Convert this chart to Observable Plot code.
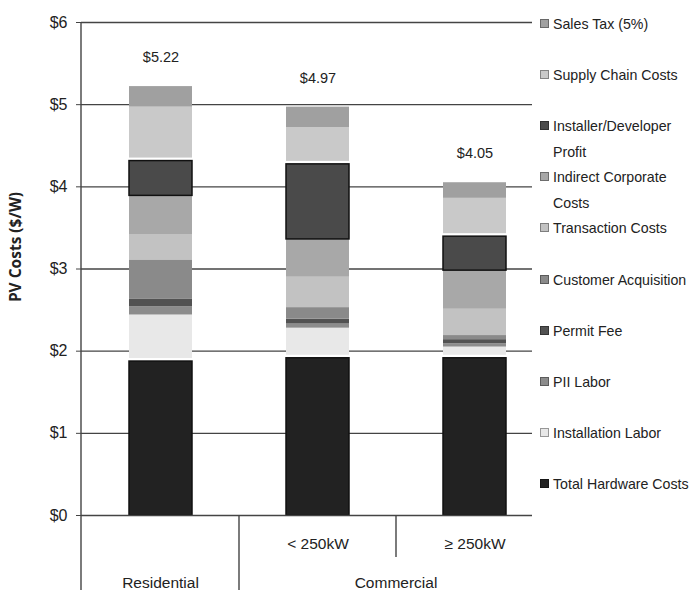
<!DOCTYPE html>
<html>
<head>
<meta charset="utf-8">
<script src="https://cdn.jsdelivr.net/npm/d3@7"></script>
<script src="https://cdn.jsdelivr.net/npm/@observablehq/plot@0.6"></script>
<style>
  body { margin: 0; background: #fff; }
  #wrap { position: relative; width: 691px; height: 595px; overflow: hidden; }
  .lg { position: absolute; left: 540px; font-family: 'Liberation Sans', Arial, sans-serif; font-size: 14.2px; color: #222; line-height: 26px; }
  .lg .sw { position: absolute; left: 0; top: 8px; width: 9px; height: 9px; box-sizing: border-box; border: 1px solid rgba(0,0,0,0.35); }
  .lg .tx { margin-left: 13px; white-space: nowrap; }
</style>
</head>
<body>
<div id="wrap"></div>
<script>
// ---- data ----
const categories = ["Residential", "< 250kW", "≥ 250kW"];
const groups = ["Residential", "Commercial", "Commercial"];
const series = [
  "Total Hardware Costs", "Installation Labor", "PII Labor", "Permit Fee",
  "Customer Acquisition", "Transaction Costs", "Indirect Corporate Costs",
  "Installer/Developer Profit", "Supply Chain Costs", "Sales Tax (5%)"
];
const residential     = [1.91, 0.53, 0.10, 0.09, 0.48, 0.31, 0.47, 0.46, 0.62, 0.25];
const commercialSmall = [1.95, 0.33, 0.05, 0.06, 0.14, 0.37, 0.46, 0.95, 0.41, 0.25];
const commercialLarge = [1.95, 0.10, 0.04, 0.05, 0.05, 0.32, 0.47, 0.45, 0.43, 0.19];
const totals = [5.22, 4.97, 4.05];
const yTicks = [0, 1, 2, 3, 4, 5, 6];
const colors = ["#222222", "#e8e8e8", "#8c8c8c", "#525252", "#8a8a8a",
                "#c2c2c2", "#a8a8a8", "#4a4a4a", "#c9c9c9", "#a0a0a0"];
const outlined = ["Total Hardware Costs", "Installer/Developer Profit"];

// ---- build table ----
const valuesByCat = [residential, commercialSmall, commercialLarge];
const rows = [];
categories.forEach((c, i) => series.forEach((s, j) => rows.push({
  cat: c, series: s, value: valuesByCat[i][j], outlined: outlined.includes(s)
})));
const totalRows = categories.map((c, i) => ({cat: c, total: totals[i]}));

const FONT = "'Liberation Sans', Arial, sans-serif";
const W = 691, H = 595, mL = 81, mR = 159, mT = 22, mB = 80;

const plot = Plot.plot({
  width: W, height: H,
  marginLeft: mL, marginRight: mR, marginTop: mT, marginBottom: mB,
  style: {fontFamily: FONT, fontSize: "15px", color: "#222", background: "white", overflow: "visible"},
  x: {domain: categories, range: [mL, 553], paddingInner: 0.6, paddingOuter: 0.3, label: null},
  y: {domain: [0, 6], label: null},
  color: {domain: series, range: colors},
  marks: [
    Plot.gridY(yTicks.slice(1), {stroke: "#444", strokeOpacity: 1, strokeWidth: 1.4}),
    Plot.barY(rows, Plot.filter(d => !d.outlined,
      Plot.stackY({x: "cat", y: "value", fill: "series"}))),
    Plot.barY(rows, Plot.filter(d => d.outlined,
      Plot.stackY({x: "cat", y: "value", fill: "series", stroke: "#111", strokeWidth: 1.5, insetTop: 3}))),
    Plot.ruleY([0], {stroke: "#444", strokeWidth: 1.4}),
    Plot.axisY(yTicks, {tickFormat: d => "$" + d, tickSize: 5, tickPadding: 9, fontSize: 16, stroke: "#444"}),
    Plot.axisX({tickSize: 0, tickPadding: 22, fontSize: 15.5, tickFormat: d => d === "Residential" ? "" : d}),
    Plot.text(totalRows, {x: "cat", y: "total", text: d => "$" + d.total.toFixed(2), dy: -29, fontSize: 14.5})
  ]
});

document.getElementById("wrap").appendChild(plot);

// ---- category dividers and group labels from the x scale ----
const xs = plot.scale("x"), ys = plot.scale("y");
const bw = xs.bandwidth, step = xs.step;
const svg = d3.select(plot);
const base = ys.apply(0);
const g = svg.append("g").attr("stroke", "#444").attr("stroke-width", 1.4);
g.append("line").attr("x1", mL).attr("x2", mL).attr("y1", ys.apply(6)).attr("y2", base + 75);
categories.forEach((c, i) => {
  if (i === 0) return;
  const xb = xs.apply(c) - (step - bw) / 2;
  const long = groups[i] !== groups[i - 1];
  g.append("line").attr("x1", xb).attr("x2", xb).attr("y1", base).attr("y2", base + (long ? 75 : 42));
});
const groupNames = [...new Set(groups)];
groupNames.forEach(name => {
  const cs = categories.filter((c, i) => groups[i] === name);
  const cx = d3.mean(cs, c => xs.apply(c) + bw / 2);
  svg.append("text").attr("x", cx).attr("y", base + 73)
    .attr("text-anchor", "middle").attr("font-size", 15.5).attr("fill", "#222")
    .attr("font-family", FONT).text(name);
});
svg.append("text")
  .attr("transform", `translate(21,247) rotate(-90)`)
  .attr("text-anchor", "middle").attr("font-family", "'Open Sans', sans-serif")
  .attr("font-weight", "bold").attr("font-size", 15.5).attr("fill", "#222")
  .text("PV Costs ($/W)");

// ---- legend (top to bottom: reverse of stack order) ----
const wrap = document.getElementById("wrap");
const legendOrder = series.slice().reverse();
legendOrder.forEach((s, i) => {
  const col = colors[series.indexOf(s)];
  const div = document.createElement("div");
  div.className = "lg";
  div.style.top = (24 + 51.1 * i - 13) + "px";
  let text = s;
  if (s.length > 21) {
    const k = s.lastIndexOf(" ");
    text = s.slice(0, k) + "<br>" + s.slice(k + 1);
  }
  div.innerHTML = `<span class="sw" style="background:${col}"></span><div class="tx">${text}</div>`;
  wrap.appendChild(div);
});
</script>
</body>
</html>
